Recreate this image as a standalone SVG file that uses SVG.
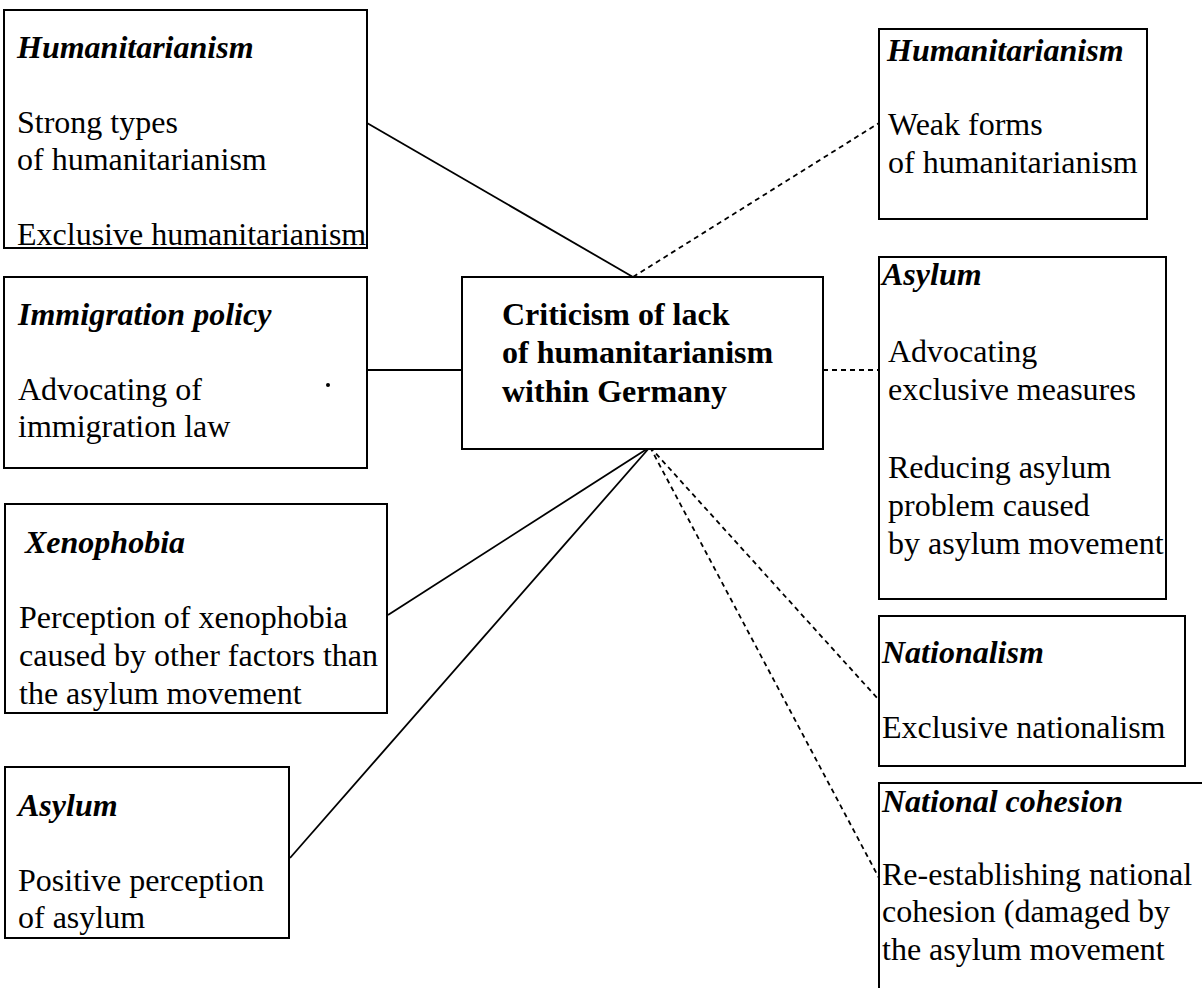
<svg xmlns="http://www.w3.org/2000/svg" width="1202" height="988" viewBox="0 0 1202 988">
  <style>
    .box { fill: #ffffff; stroke: #000000; stroke-width: 2; }
    .t { font-family: "Liberation Serif", "Times New Roman", serif; font-size: 32px; fill: #000000; }
    .h { font-weight: bold; font-style: italic; }
    .b { font-weight: bold; }
    .solid { stroke: #000000; stroke-width: 1.8; fill: none; }
    .dash { stroke: #000000; stroke-width: 1.8; fill: none; stroke-dasharray: 5 4; }
  </style>
  <rect width="1202" height="988" fill="#ffffff"/>

  <!-- connectors from the central node -->
  <g id="connectors">
    <line class="solid" x1="367" y1="123" x2="633" y2="277"/>
    <line class="dash" x1="633" y1="277" x2="879" y2="123"/>
    <line class="solid" x1="367" y1="370" x2="462" y2="370"/>
    <line class="dash" x1="823" y1="370" x2="879" y2="370"/>
    <line class="solid" x1="388" y1="615" x2="650" y2="447"/>
    <line class="solid" x1="290" y1="858" x2="650" y2="447"/>
    <line class="dash" x1="650" y1="447" x2="879" y2="700"/>
    <line class="dash" x1="650" y1="447" x2="879" y2="878"/>
  </g>

  <g id="humanitarianism-strong">
    <rect class="box" x="4" y="10" width="363" height="238"/>
    <text class="t h" x="17" y="58">Humanitarianism</text>
    <text class="t" x="17" y="133">Strong types</text>
    <text class="t" x="17" y="170">of humanitarianism</text>
    <text class="t" x="17" y="245">Exclusive humanitarianism</text>
  </g>

  <g id="humanitarianism-weak">
    <rect class="box" x="879" y="29" width="268" height="190"/>
    <text class="t h" x="887" y="61">Humanitarianism</text>
    <text class="t" x="888" y="135">Weak forms</text>
    <text class="t" x="888" y="173">of humanitarianism</text>
  </g>

  <g id="immigration-policy">
    <rect class="box" x="4" y="277" width="363" height="191"/>
    <text class="t h" x="18" y="325">Immigration policy</text>
    <text class="t" x="18" y="400">Advocating of</text>
    <text class="t" x="18" y="437">immigration law</text>
    <circle cx="328" cy="385" r="2" fill="#000000"/>
  </g>

  <g id="central">
    <rect class="box" x="462" y="277" width="361" height="172"/>
    <text class="t b" x="502" y="325">Criticism of lack</text>
    <text class="t b" x="502" y="363">of humanitarianism</text>
    <text class="t b" x="502" y="402">within Germany</text>
  </g>

  <g id="asylum-exclusive">
    <rect class="box" x="879" y="257" width="287" height="342"/>
    <text class="t h" x="882" y="285">Asylum</text>
    <text class="t" x="888" y="362">Advocating</text>
    <text class="t" x="888" y="400">exclusive measures</text>
    <text class="t" x="888" y="478">Reducing asylum</text>
    <text class="t" x="888" y="516">problem caused</text>
    <text class="t" x="888" y="554">by asylum movement</text>
  </g>

  <g id="xenophobia">
    <rect class="box" x="5" y="504" width="382" height="209"/>
    <text class="t h" x="25" y="553">Xenophobia</text>
    <text class="t" x="19" y="628">Perception of xenophobia</text>
    <text class="t" x="19" y="666">caused by other factors than</text>
    <text class="t" x="19" y="704">the asylum movement</text>
  </g>

  <g id="nationalism">
    <rect class="box" x="879" y="616" width="306" height="150"/>
    <text class="t h" x="882" y="663">Nationalism</text>
    <text class="t" x="882" y="738">Exclusive nationalism</text>
  </g>

  <g id="national-cohesion">
    <rect class="box" x="879" y="783" width="340" height="230"/>
    <text class="t h" x="882" y="812">National cohesion</text>
    <text class="t" x="882" y="885">Re-establishing national</text>
    <text class="t" x="882" y="922">cohesion (damaged by</text>
    <text class="t" x="882" y="960">the asylum movement</text>
  </g>

  <g id="asylum-positive">
    <rect class="box" x="5" y="767" width="284" height="171"/>
    <text class="t h" x="18" y="816">Asylum</text>
    <text class="t" x="18" y="891">Positive perception</text>
    <text class="t" x="18" y="928">of asylum</text>
  </g>
</svg>
